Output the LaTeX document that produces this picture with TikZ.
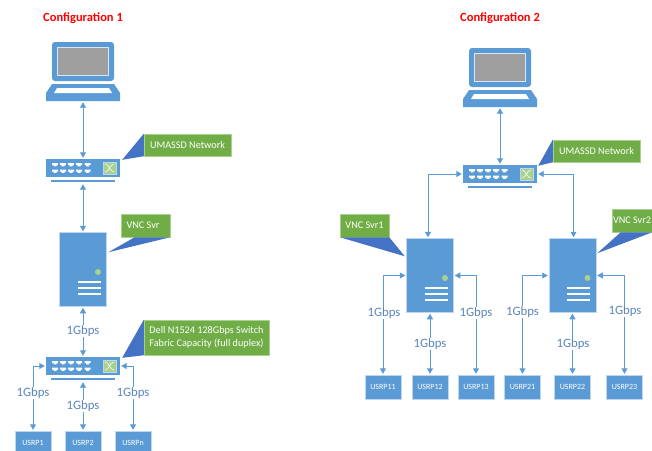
\documentclass[tikz,border=0pt]{standalone}
\usepackage{fontspec}
\setmainfont{Carlito}
\usetikzlibrary{arrows.meta}
\definecolor{netblue}{HTML}{5B9BD5}
\definecolor{paleblue}{HTML}{BDD7EE}
\definecolor{wedgeblue}{HTML}{4472C4}
\definecolor{calloutgreen}{HTML}{70AD47}
\definecolor{palegreen}{HTML}{A9D18E}
\definecolor{ratecolor}{HTML}{5B85BC}
\tikzset{
    title/.style={text=red,font=\bfseries\fontsize{12.5}{14}\selectfont,inner sep=0pt},
    link/.style={draw=netblue,line width=0.9pt,{Triangle[length=5.5pt,width=6pt]}-{Triangle[length=5.5pt,width=6pt]},shorten <=1pt,shorten >=1pt},
    rate/.style={fill=white,text=ratecolor,font=\fontsize{12.8}{14}\selectfont,inner sep=1pt},
    usrp/.style={fill=netblue,draw=paleblue,line width=0.4pt,minimum width=36pt,minimum height=24pt,inner sep=0pt,text=white,font=\fontsize{8}{10}\selectfont},
    callout/.style={fill=calloutgreen,draw=palegreen,line width=0.5pt,text=white,font=\fontsize{10.2}{13.5}\selectfont,inner sep=0pt,align=left},
    wedge/.style={fill=wedgeblue},
    server/.style={fill=netblue,draw=paleblue,line width=0.5pt,minimum width=47pt,minimum height=74pt,inner sep=0pt,
        path picture={
            \fill[palegreen] (15,2.5) circle (3pt);
            \foreach \ly in {12.5,18.5,24.5}
                \draw[white,line width=1.1pt] (-5.5,\ly) -- (17.5,\ly);
        }},
    switch/.style={minimum width=74pt,minimum height=24pt,inner sep=0pt,
        path picture={
            \fill[netblue] (-37,-12) rectangle (37,6);
            \fill[netblue] (-32,9) rectangle (32,11);
            \foreach \px in {-28,-20,-12,-4,4.5}
                \foreach \py in {-6.5,0}
                    \fill[white] (\px-3,\py-1.5) rectangle (\px+3,\py+0.5) (\px-1.5,\py+0.5) rectangle (\px+1.5,\py+1.8);
            \fill[palegreen,draw=paleblue,line width=0.5pt] (20,-9) rectangle (33,3);
            \draw[white,line width=0.6pt] (22,-7) .. controls (26,-7) and (27,1) .. (31,1);
            \draw[white,line width=0.6pt] (22,1) .. controls (26,1) and (27,-7) .. (31,-7);
        }},
    laptop/.style={minimum width=74pt,minimum height=59pt,inner sep=0pt,
        path picture={
            \fill[netblue,rounded corners=3pt] (-31,9.5) -- (-31,-29.5) -- (31,-29.5) -- (31,9.5) -- cycle;
            \fill[gray!75,draw=paleblue!60!white,line width=0.6pt] (-25.5,-24.5) rectangle (25,3.5);
            \fill[netblue] (-37,29.5) -- (-37,21.5) -- (-31,12.5) -- (31,12.5) -- (37,21.5) -- (37,29.5) -- cycle;
            \fill[white] (-29,21.5) -- (-26,16.5) -- (26,16.5) -- (29,21.5) -- cycle;
        }}
}
\begin{document}
\begin{tikzpicture}[x=1pt,y=-1pt]
    \clip (0,0) rectangle (652,450);

    %Nodes
    \node[title] at (83,18) (TitleA) {Configuration 1};
    \node[title] at (500,18) (TitleB) {Configuration 2};

    \node[laptop] at (83,71.5) (LapA) {};
    \node[switch] at (83,171) (NetA) {};
    \node[server] at (83,269.5) (Svr) {};
    \node[switch] at (83,369) (SwA) {};
    \node[usrp] at (33,443) (USRP1) {USRP1};
    \node[usrp] at (83,443) (USRP2) {USRP2};
    \node[usrp] at (133,443) (USRPn) {USRPn};

    \node[laptop] at (500,77.5) (LapB) {};
    \node[switch] at (500,177) (NetB) {};
    \node[server] at (430,275.5) (SvrA) {};
    \node[server] at (572.5,275.5) (SvrB) {};
    \node[usrp] at (383,387) (USRP11) {USRP11};
    \node[usrp] at (430,387) (USRP12) {USRP12};
    \node[usrp] at (476,387) (USRP13) {USRP13};
    \node[usrp] at (522.5,387) (USRP21) {USRP21};
    \node[usrp] at (572.5,387) (USRP22) {USRP22};
    \node[usrp] at (624.5,387) (USRP23) {USRP23};

    %Callouts
    \node[callout,minimum width=87pt,minimum height=22pt] at (187.5,145) (NoteNetA) {UMASSD Network};
    \node[callout,minimum width=49pt,minimum height=23pt] at (145.5,225.5) (NoteSvr) {VNC Svr\hspace{5pt}};
    \node[callout,minimum width=125pt,minimum height=35pt] at (206.5,337.5) (NoteSw) {Dell N1524 128Gbps Switch\\Fabric Capacity (full duplex)};
    \node[callout,minimum width=87pt,minimum height=22pt] at (596.5,151) (NoteNetB) {UMASSD Network};
    \node[callout,minimum width=49pt,minimum height=23pt] at (364.5,225.5) (NoteSvrA) {VNC Svr1};
    \node[callout,minimum width=40pt,minimum height=23pt] at (632,220.5) (NoteSvrB) {VNC Svr2};

    \fill[wedge] (NoteNetA.north west) -- ([xshift=2pt,yshift=-1pt]NetA.north east) -- (NoteNetA.south west) -- cycle;
    \fill[wedge] ([xshift=14pt]NoteSvr.south west) -- ([xshift=1.5pt,yshift=-20pt]Svr.north east) -- (NoteSvr.south east) -- cycle;
    \fill[wedge] (NoteSw.north west) -- ([xshift=2pt,yshift=-1pt]SwA.north east) -- (NoteSw.south west) -- cycle;
    \fill[wedge] (NoteNetB.north west) -- ([xshift=1pt,yshift=-1pt]NetB.north east) -- (NoteNetB.south west) -- cycle;
    \fill[wedge] (NoteSvrA.south west) -- ([xshift=-1.5pt,yshift=-18pt]SvrA.north west) -- (NoteSvrA.south east) -- cycle;
    \fill[wedge] ([xshift=9pt]NoteSvrB.south west) -- ([xshift=1pt,yshift=-15pt]SvrB.north east) -- (NoteSvrB.south east) -- cycle;

    %Lines
    \draw[link] (LapA) -- (NetA);
    \draw[link] (NetA) -- (Svr);
    \draw[link] (Svr) -- (SwA);
    \draw[link] ([yshift=3pt]SwA.west) -| (USRP1.north);
    \draw[link] (SwA) -- (USRP2);
    \draw[link] ([yshift=3pt]SwA.east) -| (USRPn.north);

    \draw[link] (LapB) -- (NetB);
    \draw[link] ([yshift=3pt]NetB.west) -| ([xshift=-2pt]SvrA.north);
    \draw[link] ([yshift=3pt]NetB.east) -| ([xshift=1pt]SvrB.north);
    \draw[link] (SvrA.west) -| (USRP11.north);
    \draw[link] (SvrA) -- (USRP12);
    \draw[link] (SvrA.east) -| (USRP13.north);
    \draw[link] (SvrB.west) -| (USRP21.north);
    \draw[link] (SvrB) -- (USRP22);
    \draw[link] (SvrB.east) -| (USRP23.north);

    %Labels
    \node[rate] at (83,331) (RateSvr) {1Gbps};
    \node[rate] at (33,393) (Rate1) {1Gbps};
    \node[rate] at (83,406) (Rate2) {1Gbps};
    \node[rate] at (133,393) (Raten) {1Gbps};
    \node[rate] at (384,313) (Rate11) {1Gbps};
    \node[rate] at (430,344) (Rate12) {1Gbps};
    \node[rate] at (476,313) (Rate13) {1Gbps};
    \node[rate] at (522.5,312) (Rate21) {1Gbps};
    \node[rate] at (573,344) (Rate22) {1Gbps};
    \node[rate] at (625,311) (Rate23) {1Gbps};
\end{tikzpicture}
\end{document}
